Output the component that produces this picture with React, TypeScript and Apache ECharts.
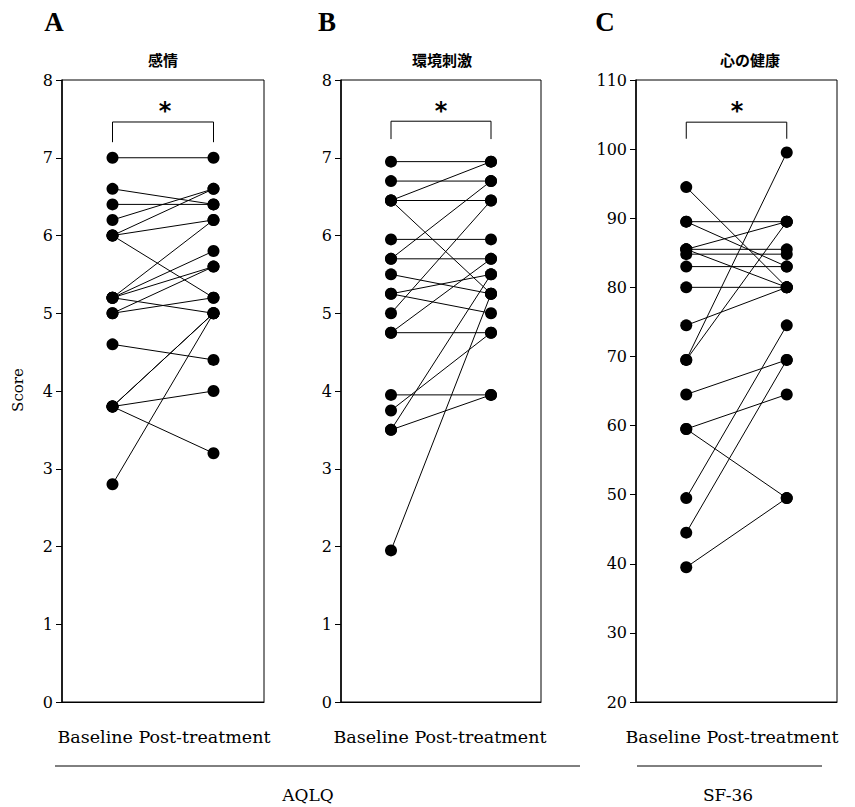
import React, { useEffect, useRef } from "react";
import * as echarts from "echarts";

// ---- data ----
const categories = ["Baseline", "Post-treatment"];

// Panel A: 感情 (AQLQ)
const aBaseline = [7.0, 6.6, 6.4, 6.2, 6.0, 6.0, 6.0, 5.2, 5.2, 5.2, 5.2, 5.0, 5.0, 4.6, 3.8, 3.8, 3.8, 3.8, 2.8];
const aPost = [7.0, 6.4, 6.4, 6.6, 6.6, 6.2, 5.2, 6.2, 5.8, 5.6, 5.0, 5.6, 5.2, 4.4, 5.0, 5.0, 4.0, 3.2, 5.0];

// Panel B: 環境刺激 (AQLQ)
const bBaseline = [6.95, 6.7, 6.45, 6.45, 6.45, 5.95, 5.7, 5.7, 5.5, 5.25, 5.25, 5.0, 4.75, 4.75, 3.95, 3.75, 3.5, 3.5, 1.95];
const bPost = [6.95, 6.7, 6.95, 6.45, 5.25, 5.95, 5.7, 6.7, 5.25, 5.5, 5.0, 6.45, 4.75, 5.7, 3.95, 4.75, 3.95, 5.5, 5.25];

// Panel C: 心の健康 (SF-36)
const cBaseline = [94.5, 89.5, 89.5, 85.5, 85.5, 84.8, 85.5, 83, 80, 74.5, 69.5, 69.5, 64.5, 59.5, 59.5, 49.5, 44.5, 39.5];
const cPost = [80, 89.5, 83, 89.5, 85.5, 84.8, 80, 83, 80, 80, 99.5, 89.5, 69.5, 64.5, 49.5, 74.5, 69.5, 49.5];

// significance brackets (leg level, top level)
const aBracket = [7.2, 7.46];
const bBracket = [7.24, 7.47];
const cBracket = [101.5, 103.9];

const panelTitles = ["感情", "環境刺激", "心の健康"];
const panelLetters = ["A", "B", "C"];
const yRanges = [
  { min: 0, max: 8, interval: 1 },
  { min: 0, max: 8, interval: 1 },
  { min: 20, max: 110, interval: 10 },
];
const groupLabels = ["AQLQ", "SF-36"];
const xLabelText = "Baseline Post-treatment";

const SERIF = "DejaVu Serif";
const CJK = "Noto Sans CJK JP";

export default function App() {
  const ref = useRef<HTMLDivElement>(null);

  useEffect(() => {
    if (!ref.current) return;
    const chart = echarts.init(ref.current, null, { renderer: "svg" });

    const grids = [
      { left: 62, top: 80, width: 202, height: 622 },
      { left: 341, top: 80, width: 200, height: 622 },
      { left: 636, top: 80, width: 201, height: 622 },
    ];

    const panels = [
      { base: aBaseline, post: aPost, bracket: aBracket },
      { base: bBaseline, post: bPost, bracket: bBracket },
      { base: cBaseline, post: cPost, bracket: cBracket },
    ];

    const series: any[] = [];
    panels.forEach((p, gi) => {
      p.base.forEach((b, k) => {
        series.push({
          type: "line",
          xAxisIndex: gi,
          yAxisIndex: gi,
          data: [
            [0, b],
            [1, p.post[k]],
          ],
          symbol: "circle",
          symbolSize: 12,
          showSymbol: true,
          itemStyle: { color: "#000" },
          lineStyle: { color: "#000", width: 1 },
          emphasis: { disabled: true },
          silent: true,
          z: 3,
        });
      });
      series.push({
        type: "line",
        xAxisIndex: gi,
        yAxisIndex: gi,
        data: [
          [0, p.bracket[0]],
          [0, p.bracket[1]],
          [1, p.bracket[1]],
          [1, p.bracket[0]],
        ],
        symbol: "none",
        lineStyle: { color: "#000", width: 1 },
        silent: true,
        z: 2,
      });
    });

    const txt = (x: number, y: number, text: string, font: string, extra: any = {}) => ({
      type: "text",
      x,
      y,
      ...extra,
      style: {
        text,
        font,
        fill: "#000",
        textAlign: "center",
        textVerticalAlign: "middle",
      },
    });

    const graphic: any[] = [];
    const letterX = [54, 327, 605];
    const titleX = [163, 442, 750];
    const starX = [165, 441, 737];
    for (let i = 0; i < 3; i++) {
      graphic.push(txt(letterX[i], 22, panelLetters[i], `bold 27px "Liberation Serif"`));
      graphic.push(txt(titleX[i], 59, panelTitles[i], `bold 15px "${CJK}"`));
      graphic.push(txt(starX[i], 111, "*", `bold 24px "DejaVu Sans"`));
    }
    const xLabelCenters = [164, 440, 732];
    xLabelCenters.forEach((cx) => {
      graphic.push(txt(cx, 737, xLabelText, `17.5px "${SERIF}"`));
    });
    graphic.push({
      type: "line",
      shape: { x1: 55, y1: 766, x2: 580, y2: 766 },
      style: { stroke: "#000", lineWidth: 1 },
    });
    graphic.push({
      type: "line",
      shape: { x1: 637, y1: 766, x2: 822, y2: 766 },
      style: { stroke: "#000", lineWidth: 1 },
    });
    graphic.push(txt(308, 795, groupLabels[0], `17px "${SERIF}"`));
    graphic.push(txt(728, 795, groupLabels[1], `17px "${SERIF}"`));
    graphic.push(txt(18, 390, "Score", `15px "${SERIF}"`, { rotation: Math.PI / 2 }));

    chart.setOption({
      animation: false,
      backgroundColor: "#fff",
      grid: grids.map((g) => ({
        ...g,
        show: true,
        borderColor: "#000",
        borderWidth: 1,
        backgroundColor: "transparent",
      })),
      xAxis: grids.map((_, i) => ({
        type: "category",
        gridIndex: i,
        data: categories,
        boundaryGap: true,
        axisLabel: { show: false },
        axisTick: { show: false },
        axisLine: { show: true, lineStyle: { color: "#000", width: 1 } },
        splitLine: { show: false },
      })),
      yAxis: grids.map((_, i) => ({
        type: "value",
        gridIndex: i,
        min: yRanges[i].min,
        max: yRanges[i].max,
        interval: yRanges[i].interval,
        axisLine: { show: true, lineStyle: { color: "#000", width: 1.5 } },
        axisTick: { show: true, inside: false, length: 6, lineStyle: { color: "#000" } },
        splitLine: { show: false },
        axisLabel: {
          color: "#000",
          fontFamily: SERIF,
          fontSize: 16,
          margin: 9,
        },
      })),
      series,
      graphic,
    });

    return () => chart.dispose();
  }, []);

  return (
    <div
      ref={ref}
      style={{ position: "absolute", left: 0, top: 0, width: 855, height: 807 }}
    />
  );
}
